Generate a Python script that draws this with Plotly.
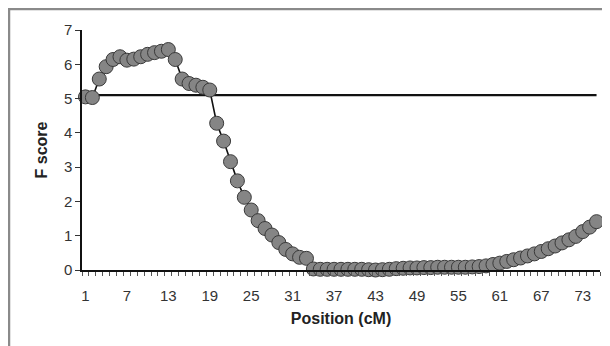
import plotly.graph_objects as go

positions = list(range(1, 76))
f_score = [
    5.05, 5.03, 5.57, 5.93, 6.14, 6.22, 6.12, 6.15, 6.22, 6.29,
    6.34, 6.38, 6.43, 6.14, 5.57, 5.44, 5.39, 5.33, 5.25, 4.28,
    3.76, 3.16, 2.60, 2.12, 1.75, 1.44, 1.21, 1.02, 0.80, 0.60,
    0.47, 0.37, 0.34, 0.03, 0.02, 0.02, 0.02, 0.02, 0.02, 0.02,
    0.02, 0.01, 0.00, 0.01, 0.02, 0.04, 0.05, 0.06, 0.06, 0.07,
    0.07, 0.08, 0.08, 0.08, 0.08, 0.08, 0.09, 0.10, 0.12, 0.16,
    0.20, 0.25, 0.30, 0.35, 0.41, 0.47, 0.54, 0.62, 0.70, 0.79,
    0.88, 0.98, 1.12, 1.25, 1.41,
]
threshold = [5.1] * len(positions)
x_tick_labels = [1, 7, 13, 19, 25, 31, 37, 43, 49, 55, 61, 67, 73]
y_ticks = [0, 1, 2, 3, 4, 5, 6, 7]

# page body has an 8px margin, so the figure starts at (8, 8)
W, H = 602, 338
ML, MR, MT, MB = 74, 10, 22, 76
FONT = "Liberation Sans, Arial, sans-serif"

fig = go.Figure()
fig.add_trace(go.Scatter(
    x=positions, y=threshold, mode="lines",
    line=dict(color="#111111", width=2.2), hoverinfo="skip", showlegend=False,
))
fig.add_trace(go.Scatter(
    x=positions, y=f_score, mode="lines+markers",
    line=dict(color="#111111", width=1.6),
    marker=dict(size=14, color="#858585", line=dict(color="#3a3a3a", width=1)),
    showlegend=False, cliponaxis=False,
))

pw = W - ML - MR
ph = H - MT - MB
# gray outer frame (top & left visible)
fig.add_shape(type="rect", xref="paper", yref="paper",
              x0=(1 - ML) / pw, x1=(W + 20 - ML) / pw,
              y0=-(MB + 20) / ph, y1=1 + (MT - 1) / ph,
              line=dict(color="#8a8a8a", width=2.5), layer="below")

fig.update_layout(
    width=W, height=H,
    margin=dict(l=ML, r=MR, t=MT, b=MB),
    paper_bgcolor="white", plot_bgcolor="white",
    font=dict(family=FONT, size=15, color="#333333"),
    xaxis=dict(
        range=[0.5, 75.5], tickmode="array", tickvals=x_tick_labels,
        ticktext=[str(v) for v in x_tick_labels], ticks="",
        showgrid=False, zeroline=False, showline=True,
        linecolor="#111111", linewidth=1.5,
        ticklabelstandoff=11,
        minor=dict(tick0=0.5, dtick=1, ticks="outside", ticklen=4,
                   tickcolor="#555555", showgrid=False),
        title=dict(text="<b>Position (cM)</b>", font=dict(size=16, color="#222222"), standoff=10),
    ),
    yaxis=dict(
        range=[0, 7], tickmode="array", tickvals=y_ticks, ticks="outside",
        ticklen=5, tickcolor="#333333",
        showgrid=False, zeroline=False, showline=True,
        linecolor="#111111", linewidth=1.5,
        title=dict(text="<b>F score</b>", font=dict(size=16, color="#222222"), standoff=12),
    ),
)

fig.write_html("out.html")
